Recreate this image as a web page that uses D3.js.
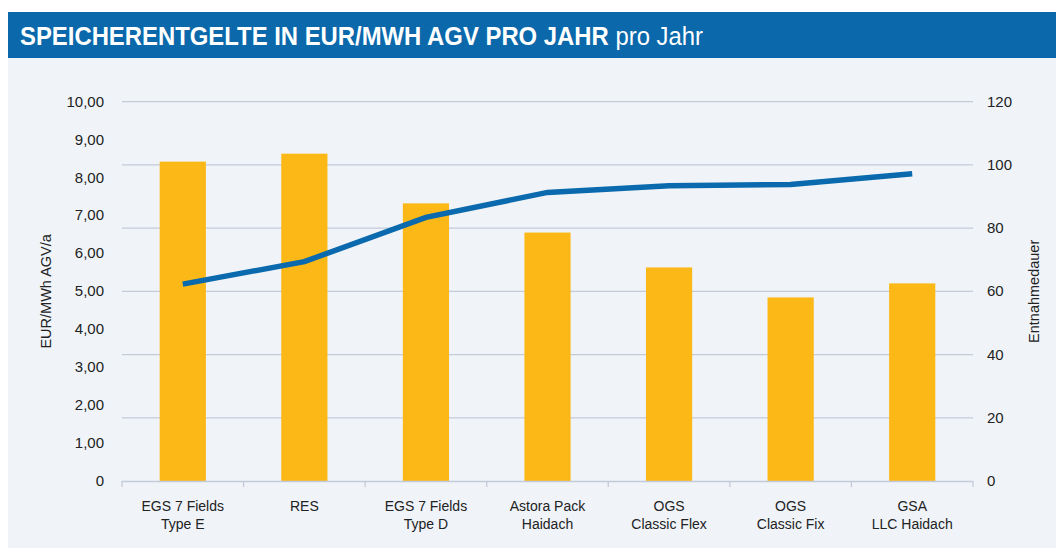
<!DOCTYPE html>
<html><head><meta charset="utf-8">
<script src="https://cdn.jsdelivr.net/npm/d3@7"></script>
<style>body{margin:0;background:#fff;} svg{display:block;}</style>
</head><body>
<svg id="c" width="1056" height="550"></svg>
<script>
const categories = [["EGS 7 Fields","Type E"],["RES"],["EGS 7 Fields","Type D"],["Astora Pack","Haidach"],["OGS","Classic Flex"],["OGS","Classic Fix"],["GSA","LLC Haidach"]];
const barValues = [8.42, 8.63, 7.32, 6.55, 5.63, 4.84, 5.21];
const lineValues = [62.3, 69.4, 83.4, 91.3, 93.4, 93.8, 97.2];
const leftTicks = [0,1,2,3,4,5,6,7,8,9,10];
const rightTicks = [0,20,40,60,80,100,120];
const titleBold = "SPEICHERENTGELTE IN EUR/MWH AGV PRO JAHR";
const titleLight = "pro Jahr";
const leftTitle = "EUR/MWh AGV/a";
const rightTitle = "Entnahmedauer";

const svg = d3.select("#c");
const font = "'Liberation Sans', Arial, sans-serif";
// panels
svg.append("rect").attr("x",8).attr("y",58).attr("width",1048).attr("height",490).attr("fill","#F0F4F9");
svg.append("rect").attr("x",8).attr("y",12).attr("width",1048).attr("height",46).attr("fill","#0A68AB");
const tt = svg.append("text").attr("transform","translate(20,45) scale(0.955,1)").attr("fill","#fff")
  .style("font-family",font).style("font-size","25px");
tt.append("tspan").attr("font-weight","bold").text(titleBold);
tt.append("tspan").attr("font-weight","normal").text(" "+titleLight);

const L=122, R=973, T=101.7, B=481;
const x = d3.scaleBand().domain(d3.range(categories.length)).range([L,R]).paddingInner(0.62).paddingOuter(0.31);
const yL = d3.scaleLinear().domain([0,10]).range([B,T]);
const yR = d3.scaleLinear().domain([0,120]).range([B,T]);

// gridlines
svg.append("g").selectAll("line").data(rightTicks.slice(1)).join("line")
  .attr("x1",L).attr("x2",R).attr("y1",d=>yR(d)).attr("y2",d=>yR(d))
  .attr("stroke","#C3CAD9").attr("stroke-width",1.3);

// bars
svg.append("g").selectAll("rect").data(barValues).join("rect")
  .attr("x",(d,i)=>x(i)).attr("width",x.bandwidth())
  .attr("y",d=>yL(d)).attr("height",d=>B-yL(d)).attr("fill","#FBB817");

// x axis
const xa = svg.append("g");
xa.append("line").attr("x1",L).attr("x2",R).attr("y1",B+0.5).attr("y2",B+0.5).attr("stroke","#C3CAD9").attr("stroke-width",1.3);
const bounds = d3.range(categories.length+1).map(i=>L+i*x.step());
xa.selectAll(".tk").data(bounds).join("line").attr("class","tk")
  .attr("x1",d=>d).attr("x2",d=>d).attr("y1",B).attr("y2",B+6).attr("stroke","#C3CAD9").attr("stroke-width",1.3);
xa.selectAll("text").data(categories).join("text")
  .attr("x",(d,i)=>x(i)+x.bandwidth()/2).attr("y",511)
  .attr("text-anchor","middle").style("font-family",font).style("font-size","14px").attr("fill","#222")
  .each(function(d){
    const t=d3.select(this);
    d.forEach((s,j)=>t.append("tspan").attr("x",t.attr("x")).attr("dy",j?18:0).text(s));
  });

// left axis labels
svg.append("g").selectAll("text").data(leftTicks).join("text")
  .attr("x",104).attr("y",d=>yL(d)+5).attr("text-anchor","end")
  .style("font-family",font).style("font-size","15px").attr("fill","#222")
  .text(d=>d===0?"0":d3.format(".2f")(d).replace(".",","));
// right axis labels
svg.append("g").selectAll("text").data(rightTicks).join("text")
  .attr("x",987).attr("y",d=>yR(d)+5).attr("text-anchor","start")
  .style("font-family",font).style("font-size","15px").attr("fill","#222")
  .text(d=>d);

svg.append("text").attr("transform",`translate(51,${(T+B)/2}) rotate(-90)`).attr("text-anchor","middle")
  .style("font-family",font).style("font-size","14.5px").attr("fill","#222").text(leftTitle);
svg.append("text").attr("transform",`translate(1039,${(T+B)/2}) rotate(-90)`).attr("text-anchor","middle")
  .style("font-family",font).style("font-size","14.5px").attr("fill","#222").text(rightTitle);

// line
const line = d3.line().x((d,i)=>x(i)+x.bandwidth()/2).y(d=>yR(d));
svg.append("path").datum(lineValues).attr("d",line).attr("fill","none")
  .attr("stroke","#0A6AAD").attr("stroke-width",5.5);
</script>
</body></html>
